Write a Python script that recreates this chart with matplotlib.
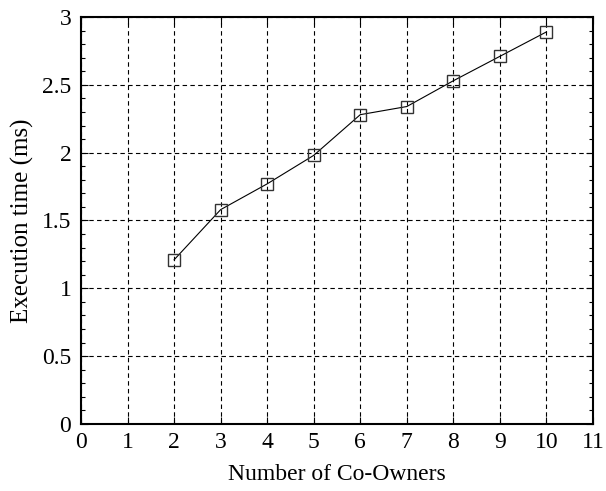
import matplotlib
matplotlib.use("Agg")
import matplotlib.pyplot as plt
from matplotlib.ticker import MultipleLocator

owners = [2, 3, 4, 5, 6, 7, 8, 9, 10]
exec_ms = [1.21, 1.58, 1.77, 1.98, 2.28, 2.34, 2.53, 2.71, 2.89]

plt.rcParams['font.family'] = ['Liberation Serif', 'DejaVu Serif']

fig = plt.figure(figsize=(6.06, 4.91), dpi=100)
ax = fig.add_axes([0.1337, 0.1365, 0.9785 - 0.1337, 0.9654 - 0.1365])

ax.plot(owners, exec_ms, color='black', lw=0.8, marker='s', ms=8.5,
        mfc='none', mec='#333333', mew=1.0)

ax.set_xlim(0, 11)
ax.set_ylim(0, 3)
ax.xaxis.set_major_locator(MultipleLocator(1))
ax.yaxis.set_major_locator(MultipleLocator(0.5))
ax.yaxis.set_minor_locator(MultipleLocator(0.1))
ax.yaxis.set_major_formatter(plt.FuncFormatter(lambda v, p: f"{v:g}"))

ax.grid(True, which='major', ls=(0, (4, 3)), color='black', lw=0.8)
ax.tick_params(which='both', direction='in', top=True, right=True, labelsize=17, width=0.8)
ax.tick_params(which='major', length=5)
ax.tick_params(which='minor', length=3)
ax.tick_params(axis='x', pad=6)
ax.tick_params(axis='y', pad=7)
for s in ax.spines.values():
    s.set_linewidth(1.5)

ax.set_xlabel('Number of Co-Owners', fontsize=17, labelpad=8)
ax.set_ylabel('Execution time (ms)', fontsize=18, labelpad=6)

fig.savefig('out.png', dpi=100)
